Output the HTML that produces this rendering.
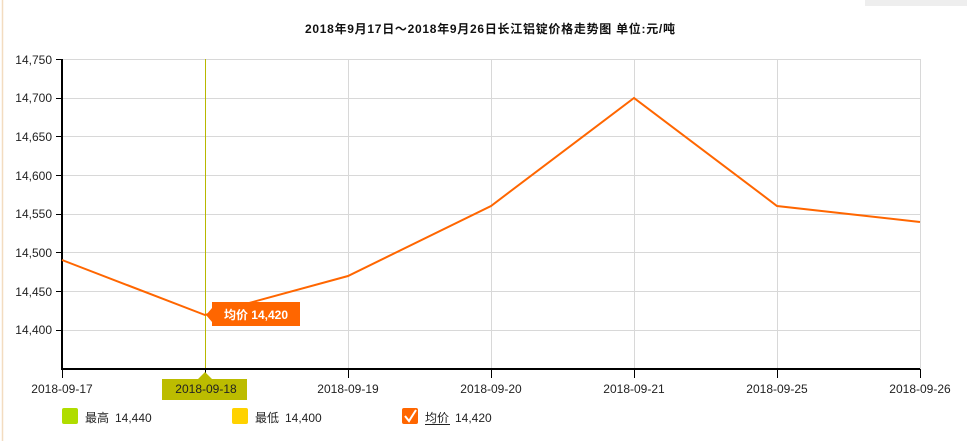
<!DOCTYPE html>
<html><head><meta charset="utf-8"><style>
body{margin:0;background:#fff;}
svg{display:block;font-family:"Liberation Sans","Noto Sans CJK SC",sans-serif;}
</style></head><body>
<svg width="967" height="441" viewBox="0 0 967 441">
<line x1="2.5" y1="0" x2="2.5" y2="441" stroke="#f3dcc0" stroke-width="1.5"/>
<rect x="865" y="0" width="102" height="6" fill="#eee"/>
<text x="490" y="33" text-anchor="middle" font-size="12" font-weight="bold" fill="#111" textLength="370" lengthAdjust="spacing">2018年9月17日～2018年9月26日长江铝锭价格走势图 单位:元/吨</text>
<g stroke="#d8d8d8" stroke-width="1">
<line x1="62" y1="59.5" x2="920" y2="59.5"/>
<line x1="62" y1="98.5" x2="920" y2="98.5"/>
<line x1="62" y1="136.5" x2="920" y2="136.5"/>
<line x1="62" y1="175.5" x2="920" y2="175.5"/>
<line x1="62" y1="214.5" x2="920" y2="214.5"/>
<line x1="62" y1="252.5" x2="920" y2="252.5"/>
<line x1="62" y1="291.5" x2="920" y2="291.5"/>
<line x1="62" y1="330.5" x2="920" y2="330.5"/>
<line x1="348.5" y1="59" x2="348.5" y2="369"/>
<line x1="491.5" y1="59" x2="491.5" y2="369"/>
<line x1="634.5" y1="59" x2="634.5" y2="369"/>
<line x1="777.5" y1="59" x2="777.5" y2="369"/>
<line x1="920.5" y1="59" x2="920.5" y2="369"/>
</g>
<line x1="205.5" y1="59" x2="205.5" y2="369" stroke="#b8b800"/>
<g stroke="#000" stroke-width="1">
<line x1="56" y1="59.5" x2="62" y2="59.5"/><line x1="56" y1="98.5" x2="62" y2="98.5"/><line x1="56" y1="136.5" x2="62" y2="136.5"/><line x1="56" y1="175.5" x2="62" y2="175.5"/><line x1="56" y1="214.5" x2="62" y2="214.5"/><line x1="56" y1="252.5" x2="62" y2="252.5"/><line x1="56" y1="291.5" x2="62" y2="291.5"/><line x1="56" y1="330.5" x2="62" y2="330.5"/>
<line x1="62.5" y1="369" x2="62.5" y2="378"/><line x1="205.5" y1="369" x2="205.5" y2="378"/><line x1="348.5" y1="369" x2="348.5" y2="378"/><line x1="491.5" y1="369" x2="491.5" y2="378"/><line x1="634.5" y1="369" x2="634.5" y2="378"/><line x1="777.5" y1="369" x2="777.5" y2="378"/><line x1="920.5" y1="369" x2="920.5" y2="378"/>
</g>
<line x1="62" y1="59" x2="62" y2="370" stroke="#000" stroke-width="2"/>
<line x1="61" y1="369" x2="920" y2="369" stroke="#000" stroke-width="2"/>
<g font-size="12" fill="#222" text-anchor="end">
<text x="52" y="64">14,750</text><text x="52" y="102">14,700</text><text x="52" y="141">14,650</text><text x="52" y="180">14,600</text><text x="52" y="218">14,550</text><text x="52" y="257">14,500</text><text x="52" y="296">14,450</text><text x="52" y="334">14,400</text>
</g>
<polyline fill="none" stroke="#ff6600" stroke-width="2" points="62,260 205,315 348,276 491,206 634,98 777,206 920,222"/>
<path d="M212,302 H300 V326 H212 V322 L206,315 L212,308 Z" fill="#ff6600"/>
<text x="256" y="319" text-anchor="middle" font-size="12" font-weight="bold" fill="#fff">均价 14,420</text>
<path d="M162,379 H198 L205,372 L212,379 H247 V400 H162 Z" fill="#bcbc00"/>
<g font-size="12" fill="#222" text-anchor="middle">
<text x="62" y="393">2018-09-17</text><text x="206" y="393">2018-09-18</text><text x="348" y="393">2018-09-19</text><text x="491" y="393">2018-09-20</text><text x="634" y="393">2018-09-21</text><text x="777" y="393">2018-09-25</text><text x="920" y="393">2018-09-26</text>
</g>
<rect x="62" y="408" width="16" height="16" rx="2" fill="#b0dd00"/>
<rect x="232" y="408" width="16" height="16" rx="2" fill="#ffd200"/>
<rect x="402" y="408" width="16" height="16" rx="2" fill="#ff6600"/>
<path d="M405,416 L409,421 L416,410" fill="none" stroke="#fff" stroke-width="2"/>
<g font-size="12" fill="#222">
<text x="85" y="422">最高</text><text x="115" y="422">14,440</text>
<text x="255" y="422">最低</text><text x="285" y="422">14,400</text>
<text x="425" y="422">均价</text><text x="455" y="422">14,420</text>
</g>
<line x1="425" y1="424.5" x2="450" y2="424.5" stroke="#222"/>
</svg>
</body></html>
